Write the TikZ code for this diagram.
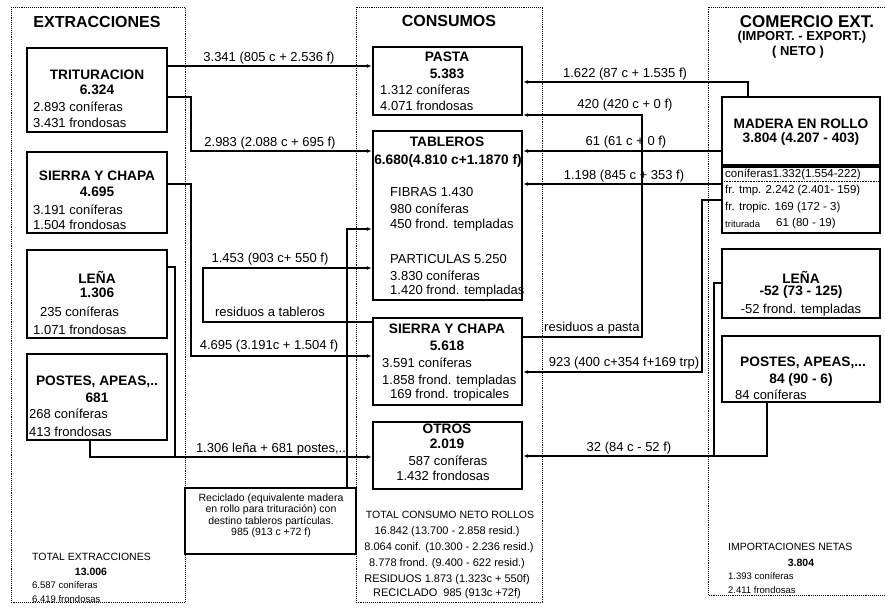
\documentclass[tikz,border=0pt]{standalone}
\usepackage{fontspec}
\setmainfont{Liberation Sans}
\usetikzlibrary{positioning}
\usetikzlibrary{arrows.meta}

\tikzset{
  box/.style={draw, line width=2.4pt, rectangle, inner sep=0pt},
  colframe/.style={densely dotted, line width=0.9pt},
  flow/.style={line width=1.2pt},
  hdr/.style={font=\fontsize{16}{18}\selectfont\bfseries, inner sep=0pt},
  ttl/.style={font=\fontsize{13.7}{15}\selectfont\bfseries, inner sep=0pt},
  det/.style={font=\fontsize{13}{14}\selectfont, inner sep=0pt, anchor=west},
  lbl/.style={font=\fontsize{13}{14}\selectfont, inner sep=0pt},
  tot/.style={font=\fontsize{10.5}{12}\selectfont, inner sep=0pt},
  sml/.style={font=\fontsize{9.5}{11}\selectfont, inner sep=0pt, anchor=west},
  sub/.style={font=\fontsize{11.5}{13}\selectfont, inner sep=0pt, anchor=west},
}

\begin{document}
\begin{tikzpicture}[x=1pt,y=-1pt,>={Latex[length=5pt,width=4pt]}]
        \useasboundingbox (0,0) rectangle (885,608);

        % column frames %
        \draw[colframe] (11,7) rectangle (185,602);
        \draw[colframe] (356,7) rectangle (542,602);
        \draw[colframe] (885,7) -- (708,7) -- (708,595) -- (885,595);

        % extracciones %
        \node[hdr] (hExt) at (97,22) {EXTRACCIONES};
        \node[box, minimum width=140pt, minimum height=84pt] (trit) at (97,90) {};
        \node[ttl] (tritA) at (97,75) {TRITURACION};
        \node[ttl] (tritB) at (97,90) {6.324};
        \node[det] (tritC) at (33,107) {2.893 coníferas};
        \node[det] (tritD) at (33,123) {3.431 frondosas};

        \node[box, minimum width=140pt, minimum height=81pt] (sierraE) at (97,192.5) {};
        \node[ttl] (sierraEA) at (97,176) {SIERRA Y CHAPA};
        \node[ttl] (sierraEB) at (97,192) {4.695};
        \node[det] (sierraEC) at (33,210) {3.191 coníferas};
        \node[det] (sierraED) at (33,225) {1.504 frondosas};

        \node[box, minimum width=140pt, minimum height=88pt] (lenaE) at (97,294) {};
        \node[ttl] (lenaEA) at (97,277) {LEÑA};
        \node[ttl] (lenaEB) at (97,293) {1.306};
        \node[det] (lenaEC) at (40,312) {235 coníferas};
        \node[det] (lenaED) at (33,330) {1.071 frondosas};

        \node[box, minimum width=140pt, minimum height=86pt] (postesE) at (97,397) {};
        \node[ttl] (postesEA) at (97,382) {POSTES, APEAS,..};
        \node[ttl] (postesEB) at (97,398) {681};
        \node[det] (postesEC) at (29,414) {268 coníferas};
        \node[det] (postesED) at (29,432) {413 frondosas};

        \node[tot, anchor=west] (totE) at (32,557) {TOTAL EXTRACCIONES};
        \node[tot, font=\fontsize{10.5}{12}\selectfont\bfseries] (totEA) at (91,572) {13.006};
        \node[sml] (totEB) at (32,585) {6.587 coníferas};
        \node[sml] (totEC) at (32,599) {6.419 frondosas};

        % consumos %
        \node[hdr] (hCon) at (449,21) {CONSUMOS};
        \node[box, minimum width=149pt, minimum height=68pt] (pasta) at (447.5,81) {};
        \node[ttl] (pastaA) at (447,57) {PASTA};
        \node[ttl] (pastaB) at (447,74) {5.383};
        \node[det] (pastaC) at (380,90) {1.312 coníferas};
        \node[det] (pastaD) at (380,106) {4.071 frondosas};

        \node[box, minimum width=149pt, minimum height=169pt] (tableros) at (447.5,215.5) {};
        \node[ttl] (tabA) at (447,142) {TABLEROS};
        \node[ttl] (tabB) at (448,161) {6.680(4.810 c+1.1870 f)};
        \node[det] (tabC) at (390,192) {FIBRAS 1.430};
        \node[det] (tabD) at (390,209) {980 coníferas};
        \node[det] (tabE) at (390,225) {450 frond. templadas};
        \node[det] (tabF) at (390,259) {PARTICULAS 5.250};
        \node[det] (tabG) at (390,276) {3.830 coníferas};
        \node[det] (tabH) at (390,291) {1.420 frond. templadas};

        \node[box, minimum width=149pt, minimum height=87pt] (sierraC) at (447.5,361.5) {};
        \node[ttl] (sierraCA) at (447,329) {SIERRA Y CHAPA};
        \node[ttl] (sierraCB) at (447,346) {5.618};
        \node[det] (sierraCC) at (382,363) {3.591 coníferas};
        \node[det] (sierraCD) at (382,381) {1.858 frond. templadas};
        \node[det] (sierraCE) at (390,395) {169 frond. tropicales};

        \node[box, minimum width=149pt, minimum height=67pt] (otros) at (447.5,455.5) {};
        \node[ttl] (otrosA) at (447,429) {OTROS};
        \node[ttl] (otrosB) at (447,444) {2.019};
        \node[lbl] (otrosC) at (448,461) {587 coníferas};
        \node[lbl] (otrosD) at (443,476) {1.432 frondosas};

        \node[tot] (totC) at (450,515) {TOTAL CONSUMO NETO ROLLOS};
        \node[tot, font=\fontsize{11}{12}\selectfont] (totCA) at (447,532) {16.842 (13.700 - 2.858 resid.)};
        \node[tot, font=\fontsize{11}{12}\selectfont] (totCB) at (449,548) {8.064 conif. (10.300 - 2.236 resid.)};
        \node[tot, font=\fontsize{11}{12}\selectfont] (totCC) at (447,564) {8.778 frond. (9.400 - 622 resid.)};
        \node[tot, font=\fontsize{11}{12}\selectfont] (totCD) at (447,580) {RESIDUOS 1.873 (1.323c + 550f)};
        \node[tot, font=\fontsize{11}{12}\selectfont] (totCE) at (447,594) {RECICLADO\ \ 985 (913c +72f)};

        % reciclado %
        \node[box, minimum width=171pt, minimum height=66pt] (recic) at (270.5,521) {};
        \node[tot, align=center, font=\fontsize{10.5}{11.5}\selectfont] (recicT) at (271,516)
          {Reciclado (equivalente madera\\en rollo para trituración) con\\destino tableros partículas.\\985 (913 c +72 f)};

        % comercio exterior %
        \node[hdr, font=\fontsize{17}{19}\selectfont\bfseries] (hCom) at (807,22) {COMERCIO EXT.};
        \node[ttl, font=\fontsize{13}{14}\selectfont\bfseries] (hComA) at (802,37) {(IMPORT. - EXPORT.)};
        \node[ttl, font=\fontsize{13}{14}\selectfont\bfseries] (hComB) at (798,52) {( NETO )};

        \node[box, minimum width=158pt, minimum height=68pt] (rollo) at (801,131) {};
        \node[ttl] (rolloA) at (801,124) {MADERA EN ROLLO};
        \node[ttl] (rolloB) at (801,139) {3.804 (4.207 - 403)};

        \node[box, minimum width=158pt, minimum height=66pt] (rollosub) at (801,200) {};
        \draw[densely dotted, line width=0.6pt] (722,167) rectangle (880,181);
        \node[sub] (subA) at (725,174) {coníferas1.332(1.554-222)};
        \node[sub] (subB) at (725,191) {fr. tmp. 2.242 (2.401- 159)};
        \node[sub] (subC) at (725,208) {fr. tropic. 169 (172 - 3)};
        \node[sml] (subD) at (725,224) {triturada};
        \node[sub] (subE) at (776,224) {61 (80 - 19)};

        \node[box, minimum width=158pt, minimum height=69pt] (lenaX) at (801,283.5) {};
        \node[ttl] (lenaXA) at (801,277) {LEÑA};
        \node[ttl] (lenaXB) at (801,292) {-52 (73 - 125)};
        \node[lbl] (lenaXC) at (801,310) {-52 frond. templadas};

        \node[box, minimum width=158pt, minimum height=66pt] (postesX) at (801,369) {};
        \node[ttl] (postesXA) at (803,363) {POSTES, APEAS,...};
        \node[ttl] (postesXB) at (801,380) {84 (90 - 6)};
        \node[det] (postesXC) at (735,395) {84 coníferas};

        \node[tot, anchor=west] (totX) at (728,547) {IMPORTACIONES NETAS};
        \node[tot, font=\fontsize{10.5}{12}\selectfont\bfseries] (totXA) at (801,563) {3.804};
        \node[sml] (totXB) at (728,576) {1.393 coníferas};
        \node[sml] (totXC) at (728,590) {2.411 frondosas};

        % edge labels %
        \node[lbl] (l1) at (269,58) {3.341 (805 c + 2.536 f)};
        \node[lbl] (l2) at (270,143) {2.983 (2.088 c + 695 f)};
        \node[lbl] (l3) at (270,259) {1.453 (903 c+ 550 f)};
        \node[lbl] (l4) at (270,312) {residuos a tableros};
        \node[lbl] (l5) at (269,346) {4.695 (3.191c + 1.504 f)};
        \node[lbl] (l6) at (271,449) {1.306 leña + 681 postes,..};
        \node[lbl] (r1) at (625,74) {1.622 (87 c + 1.535 f)};
        \node[lbl] (r2) at (625,105) {420 (420 c + 0 f)};
        \node[lbl] (r3) at (626,142) {61 (61 c + 0 f)};
        \node[lbl] (r4) at (624,176) {1.198 (845 c + 353 f)};
        \node[lbl, anchor=west] (r5) at (544,328) {residuos a pasta};
        \node[lbl] (r6) at (624,363) {923 (400 c+354 f+169 trp)};
        \node[lbl] (r7) at (629,448) {32 (84 c - 52 f)};

        % edges %
        \draw[flow,->] (trit.east |- 0,66) -- (pasta.west |- 0,66);
        \draw[flow,->] (trit.east |- 0,97) -- (191,97) -- (191,151) -- (tableros.west |- 0,151);
        \draw[flow,->] (sierraE.east |- 0,184) -- (191,184) -- (191,356) -- (sierraC.west |- 0,356);
        \draw[flow] (lenaE.east |- 0,267) -- (175,267) -- (175,457);
        \draw[flow,->] (postesE.south -| 90,0) -- (90,457) -- (otros.west |- 0,457);
        \draw[flow,->] (sierraC.west |- 0,322) -- (203,322) -- (203,268) -- (tableros.west |- 0,268);
        \draw[flow,->] (recic.north -| 347,0) -- (347,229) -- (tableros.west |- 0,229);

        \draw[flow,->] (rollo.north -| 748,0) -- (748,82) -- (pasta.east |- 0,82);
        \draw[flow,->] (sierraC.east |- 0,337) -- (642,337) -- (642,115) -- (pasta.east |- 0,115);
        \draw[flow,->] (rollo.west |- 0,151) -- (tableros.east |- 0,151);
        \draw[flow,->] (rollosub.west |- 0,184) -- (tableros.east |- 0,184);
        \draw[flow,->] (rollosub.west |- 0,200) -- (702,200) -- (702,372) -- (sierraC.east |- 0,372);
        \draw[flow,->] (lenaX.west |- 0,283) -- (714,283) -- (714,456) -- (otros.east |- 0,456);
        \draw[flow] (postesX.south -| 767,0) -- (767,456) -- (714,456);
      \end{tikzpicture}
\end{document}
